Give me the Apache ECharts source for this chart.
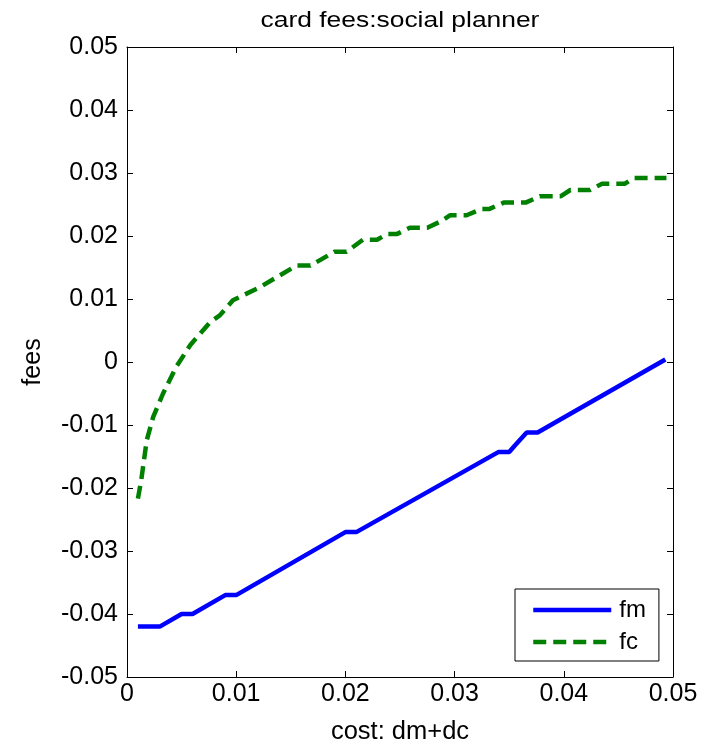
<!DOCTYPE html>
<html><head><meta charset="utf-8">
<script src="https://cdn.jsdelivr.net/npm/echarts@6/dist/echarts.min.js"></script>
<style>html,body{margin:0;padding:0;background:#fff}#c{width:726px;height:752px}</style>
</head><body><div id="c"></div>
<script>
const titleText = "card fees:social planner";
const xName = "cost: dm+dc";
const yName = "fees";
const fmX = [0.001,0.003,0.005,0.006,0.009,0.010,0.020,0.021,0.034,0.035,0.0355,0.0366,0.0376,0.0493];
const fmY = [-0.042,-0.042,-0.040,-0.040,-0.037,-0.037,-0.027,-0.027,-0.0143,-0.0143,-0.0133,-0.0112,-0.0112,0.0004];
const fcX = [0.001,0.0013,0.0018,0.0024,0.0033,0.0045,0.0058,0.0076,0.0085,0.0097,0.0122,0.0155,0.0168,0.0190,0.0201,0.0216,0.0229,0.0238,0.0247,0.0259,0.0275,0.0287,0.0296,0.0311,0.0325,0.0332,0.0345,0.0365,0.0378,0.0397,0.0406,0.0424,0.0435,0.0456,0.0464,0.0494];
const fcY = [-0.0217,-0.0188,-0.0125,-0.0087,-0.0050,-0.0008,0.0027,0.0063,0.0074,0.0098,0.0119,0.0153,0.0153,0.0175,0.0175,0.0194,0.0194,0.0203,0.0203,0.0213,0.0213,0.0223,0.0233,0.0233,0.0243,0.0243,0.0253,0.0253,0.0263,0.0263,0.0273,0.0273,0.0283,0.0283,0.0292,0.0292];

const font = "Liberation Sans, Arial, sans-serif";
const chart = echarts.init(document.getElementById('c'));
const axisCommon = {
  axisLine:{show:true,onZero:false,lineStyle:{color:'#000',width:1}},
  axisTick:{show:true,inside:true,length:6,lineStyle:{color:'#000'}},
  splitLine:{show:false}
};
const fmt = v => (Math.abs(v) < 1e-12 ? '0' : (+v.toFixed(2)).toString());
chart.setOption({
  animation:false,
  backgroundColor:'#fff',
  graphic:[{type:'text',x:400,y:10,scaleX:1.2,scaleY:1,
    style:{text:titleText,fontFamily:font,fontSize:22,fill:'#000',textAlign:'center',textVerticalAlign:'top'}}],
  grid:{left:127,right:53,top:47,bottom:75,show:false},
  legend:{left:515,top:589,orient:'vertical',itemWidth:78,itemHeight:14,itemGap:8,
    padding:[9,13,7,16],borderColor:'#000',borderWidth:1,backgroundColor:'#fff',
    itemStyle:{opacity:0},
    lineStyle:{width:4.5},
    textStyle:{fontFamily:font,fontSize:24,color:'#000',padding:[0,0,0,3]},
    data:['fm','fc']},
  xAxis:[
    Object.assign({type:'value',min:0,max:0.05,interval:0.01,position:'bottom',
      name:xName,nameLocation:'middle',nameGap:42,
      nameTextStyle:{fontFamily:font,fontSize:25.5,color:'#000'},
      axisLabel:{fontFamily:font,fontSize:25,color:'#000',margin:5,formatter:fmt}},axisCommon),
    Object.assign({type:'value',min:0,max:0.05,interval:0.01,position:'top',
      axisLabel:{show:false}},axisCommon)
  ],
  yAxis:[
    Object.assign({type:'value',min:-0.05,max:0.05,interval:0.01,position:'left',
      name:yName,nameLocation:'middle',nameGap:81,nameRotate:90,
      nameTextStyle:{fontFamily:font,fontSize:25,color:'#000'},
      axisLabel:{fontFamily:font,fontSize:25,color:'#000',margin:9,formatter:fmt}},axisCommon),
    Object.assign({type:'value',min:-0.05,max:0.05,interval:0.01,position:'right',
      axisLabel:{show:false}},axisCommon)
  ],
  series:[
    {name:'fm',type:'line',data:fmX.map((x,i)=>[x,fmY[i]]),showSymbol:false,symbol:'none',
      lineStyle:{color:'#0000ff',width:4.5},itemStyle:{color:'#0000ff'}},
    {name:'fc',type:'line',data:fcX.map((x,i)=>[x,fcY[i]]),showSymbol:false,symbol:'none',
      lineStyle:{color:'#008000',width:4.5,type:[13,7]},itemStyle:{color:'#008000'}}
  ]
});
</script></body></html>
